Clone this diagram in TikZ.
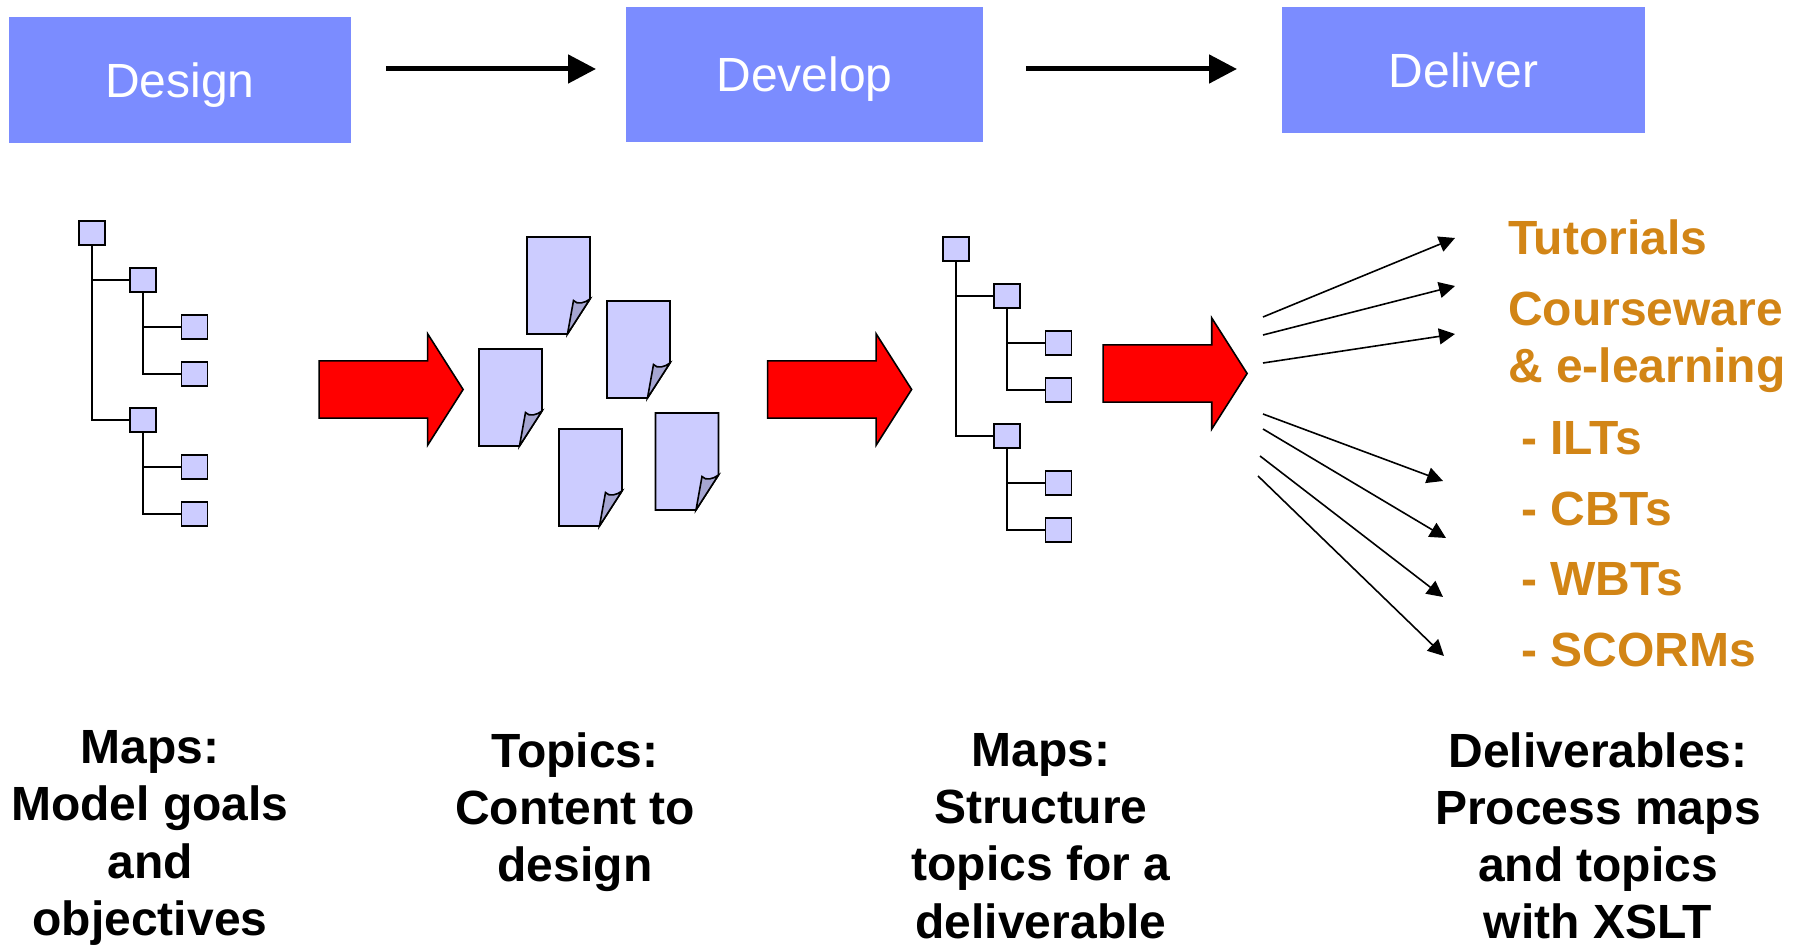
\documentclass[tikz,border=0pt]{standalone}
\usepackage{fontspec}
\setmainfont{Liberation Sans}
\usetikzlibrary{positioning,arrows.meta,shapes.arrows}
\definecolor{phaseblue}{HTML}{7B8CFF}
\definecolor{leafblue}{HTML}{CCCCFF}
\definecolor{foldblue}{HTML}{A6A6D2}
\definecolor{outorange}{HTML}{D28516}
\tikzset{
  phase/.style={
    % The shape:
    rectangle,
    fill=phaseblue,
    inner sep=0pt,
    % The text:
    text=white,
    text height=18pt,
    text depth=0.5pt,
    font=\fontsize{24}{28}\selectfont},
  flow/.style={-{Triangle[length=14pt,width=14pt]},line width=2.5pt},
  spray/.style={-{Triangle[length=8pt,width=8pt]},line width=0.8pt},
  treebox/.style={
    rectangle,
    draw=black,
    line width=0.8pt,
    fill=leafblue,
    inner sep=0pt,
    minimum width=13pt,
    minimum height=12pt},
  bigarrow/.style={
    single arrow,
    draw=black,
    line width=0.8pt,
    fill=red,
    inner xsep=0pt,
    inner ysep=13.9pt,
    minimum height=72pt,
    single arrow head extend=13.5pt,
    single arrow tip angle=115},
  caption/.style={
    align=center,
    font=\bfseries\fontsize{24}{28.6}\selectfont},
  output/.style={
    anchor=west,
    align=left,
    text=outorange,
    font=\bfseries\fontsize{24}{28.6}\selectfont},
  treeline/.style={line width=0.8pt},
  page/.pic={
    \draw[line width=0.8pt,fill=leafblue] (0,0) -- (63,0) -- (63,62) -- (40.5,97) -- (0,97) -- cycle;
    \draw[line width=0.8pt,fill=foldblue] (40.5,97) -- (46.5,63.5) .. controls (50,68) and (58,66) .. (63,62) -- cycle;
  }
}
\begin{document}
\begin{tikzpicture}[x=0.5pt,y=-0.5pt]
  \useasboundingbox (0,0) rectangle (1795,945);

  % top row
  \node (design)  [phase,minimum width=171pt,minimum height=63pt]   at (180,80)    {Design};
  \node (develop) [phase,minimum width=178.5pt,minimum height=67.5pt] at (804.5,74.5) {Develop};
  \node (deliver) [phase,minimum width=181.5pt,minimum height=63pt] at (1463.5,70) {Deliver};
  \coordinate (f1a) at (386,69);
  \coordinate (f1b) at (596,69);
  \coordinate (f2a) at (1026,69);
  \coordinate (f2b) at (1237,69);
  \draw[flow] (f1a) -- (f1b);
  \draw[flow] (f2a) -- (f2b);

  % first tree
  \node (root1) [treebox] at (92,233) {};
  \node (mida1) [treebox] at (143,280) {};
  \node (lfa1)  [treebox] at (194.5,327) {};
  \node (lfb1)  [treebox] at (194.5,374) {};
  \node (midb1) [treebox] at (143,420) {};
  \node (lfc1)  [treebox] at (194.5,467) {};
  \node (lfd1)  [treebox] at (194.5,514) {};
  \draw[treeline] (root1) |- (mida1);
  \draw[treeline] (root1) |- (midb1);
  \draw[treeline] (mida1) |- (lfa1);
  \draw[treeline] (mida1) |- (lfb1);
  \draw[treeline] (midb1) |- (lfc1);
  \draw[treeline] (midb1) |- (lfd1);

  % second tree
  \node (root2) [treebox] at (956,249) {};
  \node (mida2) [treebox] at (1007,296) {};
  \node (lfa2)  [treebox] at (1058.5,343) {};
  \node (lfb2)  [treebox] at (1058.5,390) {};
  \node (midb2) [treebox] at (1007,436) {};
  \node (lfc2)  [treebox] at (1058.5,483) {};
  \node (lfd2)  [treebox] at (1058.5,530) {};
  \draw[treeline] (root2) |- (mida2);
  \draw[treeline] (root2) |- (midb2);
  \draw[treeline] (mida2) |- (lfa2);
  \draw[treeline] (mida2) |- (lfb2);
  \draw[treeline] (midb2) |- (lfc2);
  \draw[treeline] (midb2) |- (lfd2);

  % loose pages
  \pic at (527,237) {page};
  \pic at (607,301) {page};
  \pic at (479,349) {page};
  \pic at (559,429) {page};
  \pic at (655.5,413) {page};

  % red arrows
  \node (big1) [bigarrow] at (382,389.5) {};
  \node (big2) [bigarrow] at (830.5,389.5) {};
  \node (big3) [bigarrow] at (1166,373.5) {};

  % fan of arrows
  \coordinate (s1) at (1263,317);
  \coordinate (e1) at (1455,238);
  \coordinate (s2) at (1263,335);
  \coordinate (e2) at (1455,286);
  \coordinate (s3) at (1263,363);
  \coordinate (e3) at (1455,334);
  \coordinate (s4) at (1263,414);
  \coordinate (e4) at (1443,481);
  \coordinate (s5) at (1263,429);
  \coordinate (e5) at (1446,538);
  \coordinate (s6) at (1260,456);
  \coordinate (e6) at (1443,597);
  \coordinate (s7) at (1258,476);
  \coordinate (e7) at (1444,656);
  \foreach \i in {1,...,7}
    \draw[spray] (s\i) -- (e\i);

  % deliverables
  \node (tut)  [output] at (1501,237) {Tutorials};
  \node (cw)   [output] at (1501,342) {Courseware\\\& e-learning};
  \node (ilt)  [output] at (1514,438) {- ILTs};
  \node (cbt)  [output] at (1514,509) {- CBTs};
  \node (wbt)  [output] at (1514,579) {- WBTs};
  \node (scorm)[output] at (1514,650) {- SCORMs};

  % captions
  \node (cap1) [caption] at (150,838) {Maps:\\Model goals\\and\\objectives};
  \node (cap2) [caption] at (575,812) {Topics:\\Content to\\design};
  \node (cap3) [caption] at (1041,836) {Maps:\\Structure\\topics for a\\deliverable};
  \node (cap4) [caption] at (1598,836) {Deliverables:\\Process maps\\and topics\\with XSLT};
\end{tikzpicture}
\end{document}
